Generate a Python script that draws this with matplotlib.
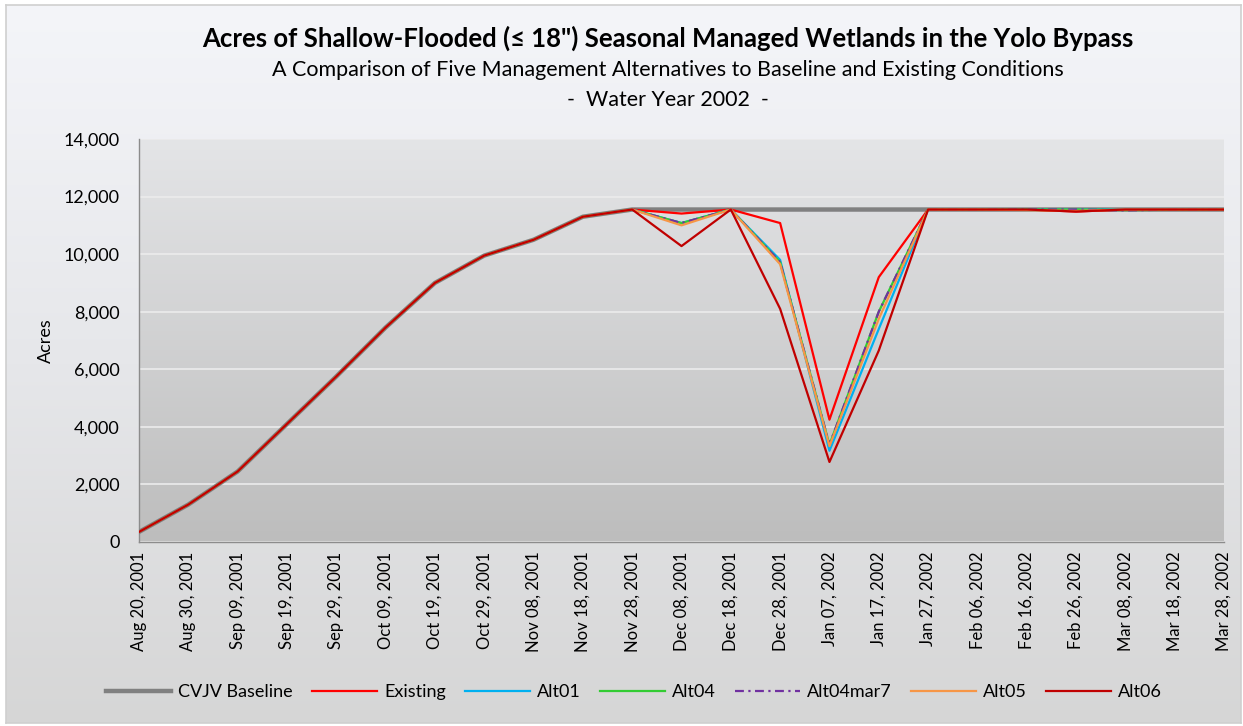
import numpy as np
import matplotlib
matplotlib.use("Agg")
import matplotlib.pyplot as plt
from matplotlib.colors import LinearSegmentedColormap

plt.rcParams['font.family'] = ['Lato', 'DejaVu Sans']

dates = ["Aug 20, 2001", "Aug 30, 2001", "Sep 09, 2001", "Sep 19, 2001", "Sep 29, 2001",
         "Oct 09, 2001", "Oct 19, 2001", "Oct 29, 2001", "Nov 08, 2001", "Nov 18, 2001",
         "Nov 28, 2001", "Dec 08, 2001", "Dec 18, 2001", "Dec 28, 2001", "Jan 07, 2002",
         "Jan 17, 2002", "Jan 27, 2002", "Feb 06, 2002", "Feb 16, 2002", "Feb 26, 2002",
         "Mar 08, 2002", "Mar 18, 2002", "Mar 28, 2002"]

baseline = [350, 1300, 2450, 4100, 5750, 7450, 9000, 9950, 10500, 11300, 11550,
            11550, 11550, 11550, 11550, 11550, 11550, 11550, 11550, 11550, 11550, 11550, 11550]
existing = [350, 1300, 2450, 4100, 5750, 7450, 9000, 9950, 10500, 11300, 11550,
            11410, 11550, 11080, 4250, 9200, 11550, 11550, 11550, 11480, 11550, 11550, 11550]
alt01 = [350, 1300, 2450, 4100, 5750, 7450, 9000, 9950, 10500, 11300, 11550,
         11080, 11550, 9800, 3170, 7400, 11550, 11550, 11550, 11550, 11550, 11550, 11550]
alt04 = [350, 1300, 2450, 4100, 5750, 7450, 9000, 9950, 10500, 11300, 11550,
         11080, 11550, 9720, 3380, 8000, 11550, 11550, 11550, 11550, 11530, 11540, 11550]
alt04mar7 = [350, 1300, 2450, 4100, 5750, 7450, 9000, 9950, 10500, 11300, 11550,
             11080, 11550, 9720, 3380, 8000, 11550, 11550, 11550, 11550, 11520, 11550, 11550]
alt05 = [350, 1300, 2450, 4100, 5750, 7450, 9000, 9950, 10500, 11300, 11550,
         11000, 11550, 9650, 3330, 7750, 11550, 11550, 11530, 11500, 11550, 11550, 11550]
alt06 = [350, 1300, 2450, 4100, 5750, 7450, 9000, 9950, 10500, 11300, 11550,
         10280, 11550, 8100, 2780, 6650, 11550, 11550, 11550, 11480, 11550, 11550, 11550]

yticks = [0, 2000, 4000, 6000, 8000, 10000, 12000, 14000]

W, H = 1243, 726
fig = plt.figure(figsize=(W / 100, H / 100), dpi=100)
fig.patch.set_facecolor('white')

# chart area background gradient
bg = fig.add_axes([6 / W, 3 / H, (W - 8) / W, (H - 8) / H], zorder=-10)
cm_bg = LinearSegmentedColormap.from_list('bg', ['#f4f5f9', '#e6e7ea', '#d6d6d6'])
bg.imshow(np.linspace(0, 1, 256).reshape(-1, 1), aspect='auto', cmap=cm_bg,
          extent=[0, 1, 0, 1], origin='upper')
bg.set_xlim(0, 1); bg.set_ylim(0, 1)
bg.set_xticks([]); bg.set_yticks([])
for s in bg.spines.values():
    s.set_color('#cfcfcf'); s.set_linewidth(1.2)

left, right, top, bottom = 139, 1224, 139, 542
pos = [left / W, 1 - bottom / H, (right - left) / W, (bottom - top) / H]

# plot area gradient
pbg = fig.add_axes(pos, zorder=-5)
cm_p = LinearSegmentedColormap.from_list('p', ['#e4e5e7', '#bdbdbd'])
pbg.imshow(np.linspace(0, 1, 256).reshape(-1, 1), aspect='auto', cmap=cm_p,
           extent=[0, 1, 0, 1], origin='upper')
pbg.set_xticks([]); pbg.set_yticks([])
for s in pbg.spines.values():
    s.set_visible(False)

ax = fig.add_axes(pos)
ax.set_facecolor('none')
x = np.arange(len(dates))

ax.plot(x, baseline, color='#808080', lw=3.2, label='CVJV Baseline', zorder=3)
ax.plot(x, existing, color='#FF0000', lw=1.6, label='Existing', zorder=4)
ax.plot(x, alt01, color='#00B0F0', lw=1.6, label='Alt01', zorder=5)
ax.plot(x, alt04, color='#33CC33', lw=1.6, label='Alt04', zorder=6)
ax.plot(x, alt04mar7, color='#7030A0', lw=1.6, ls=(0, (4, 2, 1, 2)), label='Alt04mar7', zorder=7)
ax.plot(x, alt05, color='#F79646', lw=1.6, label='Alt05', zorder=8)
ax.plot(x, alt06, color='#C00000', lw=1.6, label='Alt06', zorder=9)

ax.set_xlim(0, len(dates) - 1)
ax.set_ylim(0, 14000)
ax.set_yticks(yticks)
ax.set_yticklabels([f"{v:,}" for v in yticks], fontsize=13)
ax.set_xticks(x)
ax.set_xticklabels(dates, rotation=90, fontsize=12)
ax.tick_params(axis='y', length=0, pad=14)
ax.tick_params(axis='x', length=0, pad=7)
ax.grid(axis='y', color='#ececec', lw=1.2, zorder=1)
ax.set_axisbelow(True)
for s in ['top', 'right']:
    ax.spines[s].set_visible(False)
for s in ['left', 'bottom']:
    ax.spines[s].set_color('#8c8c8c')
    ax.spines[s].set_linewidth(1.0)

ax.set_ylabel('Acres', fontsize=13, labelpad=7)

fig.text(668 / W, 1 - 38 / H, 'Acres of Shallow-Flooded (≤ 18") Seasonal Managed Wetlands in the Yolo Bypass',
         ha='center', va='center', fontsize=18.5, fontweight='bold')
fig.text(668 / W, 1 - 70 / H, 'A Comparison of Five Management Alternatives to Baseline and Existing Conditions',
         ha='center', va='center', fontsize=15.5)
fig.text(668 / W, 1 - 100 / H, '-  Water Year 2002  -', ha='center', va='center', fontsize=15.5)

leg = ax.legend(loc='center', bbox_to_anchor=((634 - left) / (right - left), -(692 - bottom) / (bottom - top)),
                ncol=7, frameon=False, fontsize=13, handlelength=3.6, columnspacing=1.05,
                handletextpad=0.4)

fig.savefig('out.png', dpi=100)
